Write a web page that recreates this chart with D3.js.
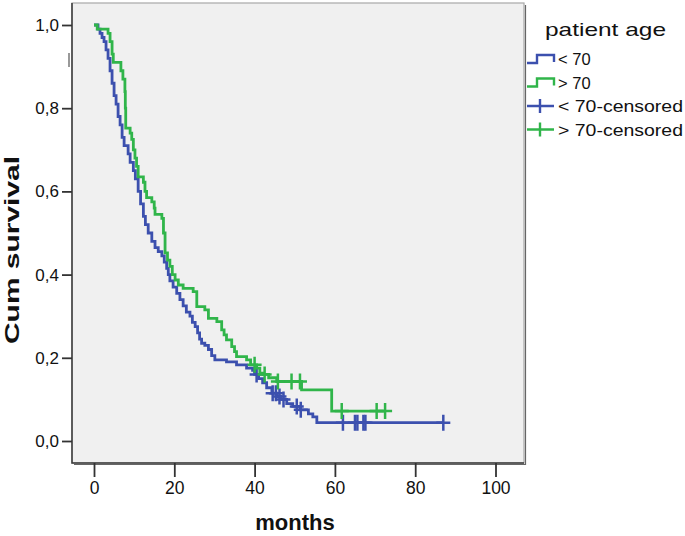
<!DOCTYPE html>
<html>
<head>
<meta charset="utf-8">
<script src="https://cdn.jsdelivr.net/npm/d3@7"></script>
<style>
  html, body { margin: 0; padding: 0; background: #ffffff; }
  svg { display: block; font-family: "Liberation Sans", Arial, sans-serif; }
</style>
</head>
<body>
<svg id="chart" width="685" height="536"></svg>
<script>
// ---------- data ----------
const groupNames = ["< 70", "> 70"];
const legendTitle = "patient age";
const legendLabels = ["< 70", "> 70", "< 70-censored", "> 70-censored"];
const xTicks = [0, 20, 40, 60, 80, 100];
const yTicks = [0, 0.2, 0.4, 0.6, 0.8, 1.0];
const xTitle = "months";
const yTitle = "Cum survival";

// Kaplan-Meier steps: [time (months), survival after the event]
const under70Steps = [
  [0,1.0],[1,0.99],[1.5,0.98],[2,0.97],[2.5,0.96],[3,0.94],[3.5,0.92],[4,0.89],
  [4.5,0.86],[5,0.83],[5.5,0.81],[6,0.78],[6.5,0.76],[7,0.73],[7.5,0.71],[8.5,0.69],
  [9,0.67],[9.8,0.65],[10.3,0.63],[11,0.6],[11.6,0.57],[12.3,0.54],[12.8,0.52],
  [13.5,0.5],[14.4,0.48],[15.2,0.465],[16,0.455],[16.9,0.445],[17.5,0.43],[18.1,0.415],
  [18.5,0.4],[18.9,0.385],[19.7,0.37],[20.6,0.355],[21.4,0.34],[22.2,0.325],[23,0.31],
  [23.9,0.3],[24.5,0.285],[25.2,0.275],[25.8,0.26],[26.3,0.245],[26.8,0.235],[27.6,0.23],
  [28.5,0.22],[29.3,0.205],[30.1,0.195],[33,0.19],[35.5,0.183],[38,0.175],[39.5,0.17],
  [40,0.16],[41,0.15],[42,0.14],[43,0.128],[44.3,0.115],[45.5,0.107],[46.5,0.1],
  [48,0.09],[49.5,0.083],[51.3,0.075],[53.4,0.065],[54.5,0.058],[55.5,0.044]
];
const under70Censored = [40.5, 44.5, 45.3, 46.2, 47.2, 50.5, 51.5, 62, 65, 65.6, 67.1, 67.6, 87];

const over70Steps = [
  [0,1.0],[0.8,0.99],[3.5,0.98],[4,0.96],[4.5,0.93],[4.8,0.91],[6.7,0.89],[7.2,0.87],
  [7.7,0.84],[7.8,0.8],[7.9,0.752],[9,0.74],[9.4,0.725],[9.8,0.7],[10.2,0.68],[10.6,0.66],
  [11,0.635],[12.3,0.622],[12.7,0.6],[13.1,0.585],[14.4,0.575],[15,0.56],[15.2,0.545],
  [16.9,0.535],[17.3,0.5],[17.7,0.452],[18.3,0.435],[18.9,0.42],[19.5,0.4],[20.2,0.387],
  [21,0.375],[22.2,0.367],[24.7,0.359],[25.6,0.323],[27.6,0.315],[28.5,0.295],[30.6,0.287],
  [31.8,0.267],[32.4,0.255],[33,0.243],[34.3,0.227],[35,0.215],[35.5,0.203],[38,0.195],
  [39,0.183],[40.5,0.175],[41.3,0.163],[42.2,0.16],[43.5,0.152],[45.5,0.143],[51.7,0.123],
  [59.2,0.072]
];
const over70Censored = [40, 42.5, 45.8, 49.2, 51.3, 61.7, 70.4, 72.5];

const seriesColors = ["#3c50ae", "#30b54a"];

// ---------- layout ----------
const plot = { left: 72, right: 524, top: 3, bottom: 463 };
const svg = d3.select("#chart");

const x = d3.scaleLinear().domain([0, 100]).range([94, 495.5]);
const y = d3.scaleLinear().domain([0, 1]).range([441, 25]);

// plot background + frame
svg.append("rect")
  .attr("x", plot.left).attr("y", plot.top)
  .attr("width", plot.right - plot.left).attr("height", plot.bottom - plot.top)
  .attr("fill", "#f0f0f0").attr("stroke", "#a8a8a8").attr("stroke-width", 1.2);
// shadow on right/bottom
svg.append("path")
  .attr("d", `M${plot.right + 1.5},${plot.top + 2} V${plot.bottom + 1.5} H${plot.left + 2}`)
  .attr("fill", "none").attr("stroke", "#666").attr("stroke-width", 1.2);
// left and bottom axis lines
svg.append("path")
  .attr("d", `M${plot.left},${plot.top} V${plot.bottom} H${plot.right}`)
  .attr("fill", "none").attr("stroke", "#3a3a3a").attr("stroke-width", 1.5);

// small stray mark next to the y axis
svg.append("line").attr("x1", 69).attr("x2", 69).attr("y1", 53).attr("y2", 67)
  .attr("stroke", "#555").attr("stroke-width", 1.2);

// y axis
const yAxis = d3.axisLeft(y).tickValues(yTicks).tickSize(10).tickPadding(3)
  .tickFormat(d => d3.format(".1f")(d).replace(".", ","));
const gy = svg.append("g").attr("transform", `translate(${plot.left},0)`).call(yAxis);
gy.select(".domain").remove();
gy.selectAll(".tick line").attr("stroke", "#333").attr("stroke-width", 1.8);
gy.selectAll(".tick text").attr("font-size", 17).attr("fill", "#111")
  .attr("font-family", "'Liberation Sans', Arial, sans-serif");

// x axis
const xAxis = d3.axisBottom(x).tickValues(xTicks).tickSize(14).tickPadding(5)
  .tickFormat(d3.format("d"));
const gx = svg.append("g").attr("transform", `translate(0,${plot.bottom})`).call(xAxis);
gx.select(".domain").remove();
gx.selectAll(".tick line").attr("stroke", "#333").attr("stroke-width", 1.8);
gx.selectAll(".tick text").attr("font-size", 17.5).attr("fill", "#111")
  .attr("font-family", "'Liberation Sans', Arial, sans-serif");

// axis titles
svg.append("text").attr("x", 295).attr("y", 530).attr("text-anchor", "middle")
  .attr("font-size", 22).attr("font-weight", "bold").attr("fill", "#111").text(xTitle);
svg.append("text").attr("transform", "translate(19,250) rotate(-90)")
  .attr("text-anchor", "middle").attr("font-size", 20).attr("font-weight", "bold")
  .attr("fill", "#111")
  .attr("textLength", 188).attr("lengthAdjust", "spacingAndGlyphs").text(yTitle);

// ---------- curves ----------
const line = d3.line().x(d => x(d[0])).y(d => y(d[1])).curve(d3.curveStepAfter);
function survAt(steps, t) {
  let s = 1;
  for (const st of steps) { if (st[0] <= t) s = st[1]; else break; }
  return s;
}
const groups = [
  { steps: under70Steps, cens: under70Censored, color: seriesColors[0] },
  { steps: over70Steps, cens: over70Censored, color: seriesColors[1] }
];
const gc = svg.append("g");
groups.forEach(g => {
  const end = d3.max(g.cens);
  const pts = g.steps.concat([[end, g.steps[g.steps.length - 1][1]]]);
  gc.append("path").datum(pts).attr("d", line)
    .attr("fill", "none").attr("stroke", g.color).attr("stroke-width", 2.8)
    .attr("stroke-linejoin", "miter");
  gc.selectAll(null).data(g.cens).enter().append("path")
    .attr("d", t => {
      const cx = x(t), cy = y(survAt(g.steps, t));
      return `M${cx},${cy - 8} V${cy + 8} M${cx - 7},${cy} H${cx + 7}`;
    })
    .attr("fill", "none").attr("stroke", g.color).attr("stroke-width", 2.5);
});

// ---------- legend ----------
svg.append("text").attr("x", 545).attr("y", 36).attr("font-size", 19).attr("fill", "#111")
  .attr("textLength", 121).attr("lengthAdjust", "spacingAndGlyphs").text(legendTitle);
const rowBase = [65, 88.5, 112, 135.5];
const rowLen = [null, null, 125, 125];
legendLabels.forEach((lab, i) => {
  const color = seriesColors[i % 2];
  const b = rowBase[i];
  if (i < 2) {
    svg.append("path")
      .attr("d", `M527,${b - 2} H537 V${b - 10} H554 V${b - 3}`)
      .attr("fill", "none").attr("stroke", color).attr("stroke-width", 2.4);
  } else {
    svg.append("path")
      .attr("d", `M527,${b - 6} H554 M540,${b - 13} V${b + 1}`)
      .attr("fill", "none").attr("stroke", color).attr("stroke-width", 2.4);
  }
  const t = svg.append("text").attr("x", 558).attr("y", b).attr("font-size", 16.5)
    .attr("fill", "#111").text(lab);
  if (rowLen[i]) t.attr("textLength", rowLen[i]).attr("lengthAdjust", "spacingAndGlyphs");
});
</script>
</body>
</html>
